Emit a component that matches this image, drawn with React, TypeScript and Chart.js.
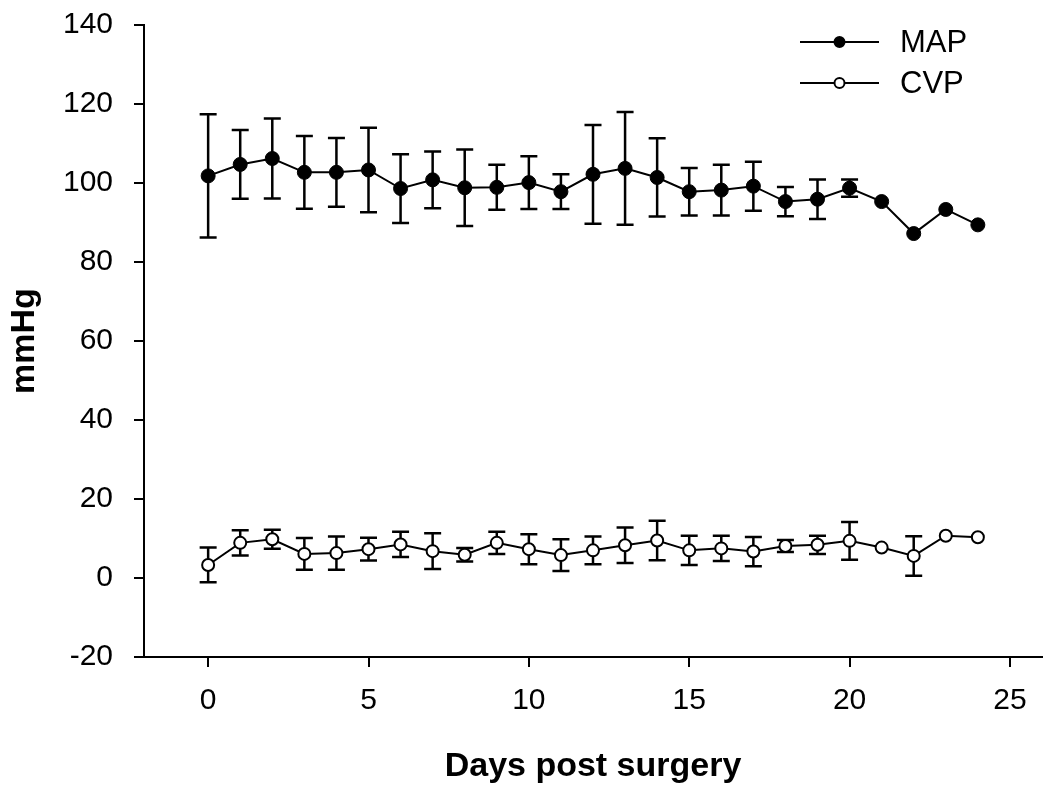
import React, { useEffect, useRef } from "react";
import { Chart, registerables } from "chart.js";

Chart.register(...registerables);

const days = [0, 1, 2, 3, 4, 5, 6, 7, 8, 9, 10, 11, 12, 13, 14, 15, 16, 17, 18, 19, 20, 21, 22, 23, 24];
const mapMean = [101.8, 104.7, 106.2, 102.7, 102.7, 103.3, 98.6, 100.8, 98.8, 98.9, 100.1, 97.8, 102.2, 103.7, 101.4, 97.8, 98.2, 99.2, 95.3, 95.9, 98.7, 95.3, 87.2, 93.3, 89.4];
const mapErr = [15.6, 8.7, 10.1, 9.2, 8.7, 10.7, 8.7, 7.2, 9.7, 5.7, 6.7, 4.4, 12.5, 14.3, 9.9, 6.0, 6.4, 6.2, 3.7, 5.0, 2.2, 0, 0, 0, 0];
const cvpMean = [3.3, 8.9, 9.8, 6.1, 6.3, 7.3, 8.5, 6.8, 5.9, 8.9, 7.3, 5.8, 7.0, 8.3, 9.5, 7.0, 7.5, 6.7, 8.1, 8.4, 9.4, 7.7, 5.6, 10.7, 10.3];
const cvpErr = [4.4, 3.2, 2.4, 4.0, 4.2, 2.9, 3.2, 4.5, 1.7, 2.8, 3.8, 4.0, 3.5, 4.5, 5.0, 3.7, 3.2, 3.7, 1.5, 2.3, 4.8, 0, 5.0, 0, 0];
const xTicks = [0, 5, 10, 15, 20, 25];
const seriesNames = ["MAP", "CVP"];

const FONT = "'Liberation Sans', Arial, Helvetica, sans-serif";

const errorBarPlugin = {
  id: "errorBars",
  beforeDatasetsDraw(chart: any) {
    const ctx = chart.ctx;
    const xs = chart.scales.x;
    const ys = chart.scales.y;
    const errs = [mapErr, cvpErr];
    const means = [mapMean, cvpMean];
    ctx.save();
    ctx.strokeStyle = "#000";
    ctx.lineWidth = 2.5;
    for (let s = 0; s < 2; s++) {
      for (let i = 0; i < days.length; i++) {
        const e = errs[s][i];
        if (!e) continue;
        const px = xs.getPixelForValue(days[i]);
        const top = ys.getPixelForValue(means[s][i] + e);
        const bot = ys.getPixelForValue(means[s][i] - e);
        const hw = 8.5;
        ctx.beginPath();
        ctx.moveTo(px, top);
        ctx.lineTo(px, bot);
        ctx.moveTo(px - hw, top);
        ctx.lineTo(px + hw, top);
        ctx.moveTo(px - hw, bot);
        ctx.lineTo(px + hw, bot);
        ctx.stroke();
      }
    }
    ctx.restore();
  },
};

const legendPlugin = {
  id: "customLegend",
  afterDraw(chart: any) {
    const ctx = chart.ctx;
    const area = chart.chartArea;
    const x0 = area.right - 242;
    const x1 = area.right - 163;
    const xm = (x0 + x1) / 2;
    const rows = [area.top + 17, area.top + 58];
    ctx.save();
    rows.forEach((y: number, i: number) => {
      ctx.strokeStyle = "#000";
      ctx.lineWidth = 2;
      ctx.beginPath();
      ctx.moveTo(x0, y);
      ctx.lineTo(x1, y);
      ctx.stroke();
      ctx.beginPath();
      ctx.arc(xm, y, 5, 0, Math.PI * 2);
      ctx.fillStyle = i === 0 ? "#000" : "#fff";
      ctx.fill();
      ctx.lineWidth = 2;
      ctx.stroke();
      ctx.fillStyle = "#000";
      ctx.font = `31px ${FONT}`;
      ctx.textAlign = "left";
      ctx.textBaseline = "middle";
      ctx.fillText(seriesNames[i], x1 + 21, y + 1);
    });
    ctx.restore();
  },
};

export default function App() {
  const ref = useRef<HTMLCanvasElement | null>(null);
  useEffect(() => {
    if (!ref.current) return;
    const chart = new Chart(ref.current, {
      type: "line",
      data: {
        datasets: [
          {
            label: seriesNames[0],
            data: days.map((d, i) => ({ x: d, y: mapMean[i] })),
            borderColor: "#000",
            backgroundColor: "#000",
            borderWidth: 2,
            pointRadius: 7,
            pointBackgroundColor: "#000",
            pointBorderColor: "#000",
            pointBorderWidth: 1,
            tension: 0,
          },
          {
            label: seriesNames[1],
            data: days.map((d, i) => ({ x: d, y: cvpMean[i] })),
            borderColor: "#000",
            backgroundColor: "#fff",
            borderWidth: 2,
            pointRadius: 6,
            pointBackgroundColor: "#fff",
            pointBorderColor: "#000",
            pointBorderWidth: 2,
            tension: 0,
          },
        ],
      },
      options: {
        animation: false,
        responsive: false,
        devicePixelRatio: 1,
        layout: { padding: { top: 25, right: 5, left: 0, bottom: 0 } },
        plugins: {
          legend: { display: false },
          tooltip: { enabled: false },
        },
        scales: {
          x: {
            type: "linear",
            min: -2,
            max: 26,
            afterBuildTicks: (scale: any) => {
              scale.ticks = xTicks.map((v) => ({ value: v }));
            },
            afterFit: (scale: any) => {
              scale.height = 134;
              scale.paddingLeft = 0;
              scale.paddingRight = 0;
            },
            grid: {
              display: true,
              drawOnChartArea: false,
              drawTicks: true,
              tickLength: 10,
              color: "#000",
              lineWidth: 2,
            },
            border: { display: true, color: "#000", width: 2 },
            ticks: {
              color: "#000",
              padding: 16,
              font: { family: FONT, size: 30 },
              maxRotation: 0,
            },
            title: {
              display: true,
              text: "Days post surgery",
              color: "#000",
              font: { family: FONT, size: 34, weight: "bold" },
            },
          },
          y: {
            type: "linear",
            min: -20,
            max: 140,
            ticks: {
              stepSize: 20,
              color: "#000",
              padding: 21,
              font: { family: FONT, size: 30 },
            },
            afterFit: (scale: any) => {
              scale.width = 144;
              scale.paddingTop = 0;
              scale.paddingBottom = 0;
            },
            grid: {
              display: true,
              drawOnChartArea: false,
              drawTicks: true,
              tickLength: 10,
              color: "#000",
              lineWidth: 2,
            },
            border: { display: true, color: "#000", width: 2 },
            title: {
              display: true,
              text: "mmHg",
              color: "#000",
              font: { family: FONT, size: 34, weight: "bold" },
            },
          },
        },
      } as any,
      plugins: [errorBarPlugin, legendPlugin],
    });
    return () => chart.destroy();
  }, []);
  return (
    <div style={{ position: "absolute", left: 0, top: 0, width: 1050, height: 791, background: "#fff" }}>
      <canvas ref={ref} width={1050} height={791} />
    </div>
  );
}
